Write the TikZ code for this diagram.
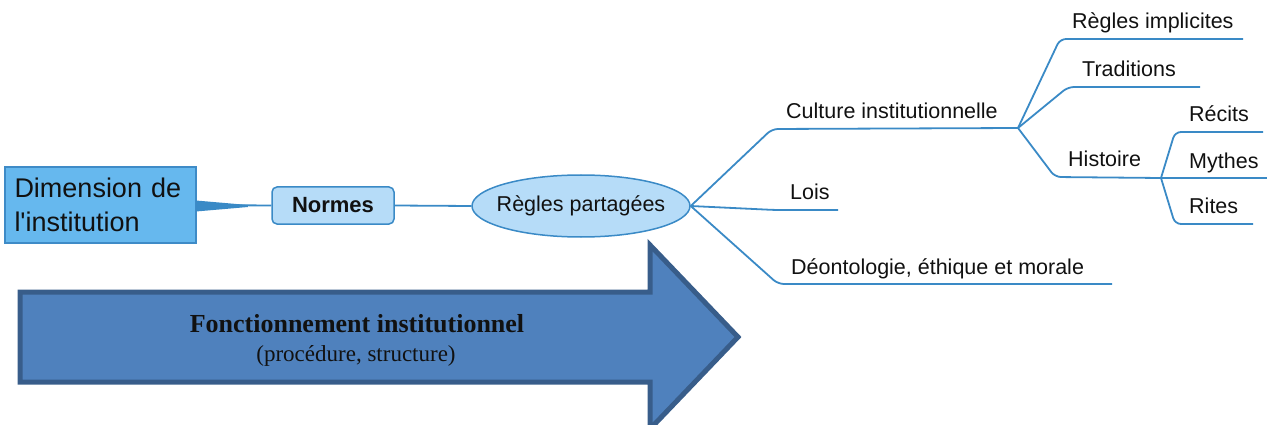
\documentclass[tikz,border=0pt]{standalone}
\usepackage{fontspec}
\setmainfont{Liberation Sans}
\newfontfamily\timesfont{Liberation Serif}
\usetikzlibrary{shapes.geometric}
\definecolor{branch}{HTML}{3A8AC6}
\definecolor{dimfill}{HTML}{66B8EE}
\definecolor{dimedge}{HTML}{3E8BC7}
\definecolor{nodefill}{HTML}{B6DCF8}
\definecolor{arrowfill}{HTML}{4F81BD}
\definecolor{arrowedge}{HTML}{385D8A}
\definecolor{ink}{HTML}{111111}

\begin{document}
\begin{tikzpicture}[x=1pt,y=-1pt,
  branchline/.style={draw=branch,line width=1.8pt,rounded corners=6pt},
  leaf/.style={anchor=base west,inner sep=0pt,text=ink,
    font=\fontsize{21.5}{24}\selectfont},
]
\useasboundingbox (0,0) rectangle (1267,425);

% large block arrow at the bottom
\draw[fill=arrowfill,draw=arrowedge,line width=5pt,line join=miter]
  (20,292) -- (650,292) -- (650,245) -- (738,337) -- (650,429)
  -- (650,382) -- (20,382) -- cycle;
\node (fonct) [anchor=base,inner sep=0pt,text=ink,
  font=\timesfont\bfseries\fontsize{26}{30}\selectfont] at (357,332)
  {Fonctionnement institutionnel};
\node (proc) [anchor=base,inner sep=0pt,text=ink,
  font=\timesfont\fontsize{23}{26}\selectfont] at (356,361)
  {(procédure, structure)};

% root box
\node (dim) [rectangle,draw=dimedge,fill=dimfill,line width=1.5pt,
  minimum width=191pt,minimum height=76pt,inner sep=0pt,
  text width=172pt,align=left,text=ink,
  font=\fontsize{27}{34}\selectfont] at (100.5,205)
  {Dimension de\\l\textquotesingle institution};

% first level
\node (normes) [rectangle,rounded corners=5pt,draw=branch,fill=nodefill,
  line width=1.5pt,minimum width=122pt,minimum height=37pt,text=ink,
  font=\bfseries\fontsize{22}{26}\selectfont] at (333,205.5) {Normes};

\node (regles) [ellipse,draw=branch,fill=nodefill,line width=1.5pt,
  minimum width=218pt,minimum height=62pt,inner sep=0pt] at (581,206) {};
\node (reglesText) [inner sep=0pt,text=ink,
  font=\fontsize{21.5}{24}\selectfont] at (regles.center) {Règles partagées};

% tapered link from the root
\fill[branch] (196,200.5) -- (248,205) -- (248,207) -- (196,211.5) -- cycle;
\draw[draw=branch,line width=1.8pt] (dim.east) -- (normes.west);
\draw[draw=branch,line width=1.8pt] (normes.east) -- (regles.west);

% junctions and free ends
\coordinate (j1) at (1018,128);
\coordinate (j2) at (1161,178);
\coordinate (eLois) at (838,210);
\coordinate (eDeon) at (1112,284);
\coordinate (eImpl) at (1243,39);
\coordinate (eTrad) at (1200,87);
\coordinate (eRec) at (1263,132);
\coordinate (eMyth) at (1267,178);
\coordinate (eRite) at (1253,224);

% branches
\draw[branchline] (regles.east) -- (772,129) -- (j1);
\draw[branchline] (regles.east) -- (775,210) -- (eLois);
\draw[branchline] (regles.east) -- (778,284) -- (eDeon);
\draw[branchline] (j1) -- (1060,39) -- (eImpl);
\draw[branchline] (j1) -- (1068,87) -- (eTrad);
\draw[branchline] (j1) -- (1055,177) -- (j2);
\draw[branchline] (j2) -- (1175,132) -- (eRec);
\draw[branchline] (j2) -- (eMyth);
\draw[branchline] (j2) -- (1175,224) -- (eRite);

% labels
\node (tCult) [leaf] at (786,119) {Culture institutionnelle};
\node (tLois) [leaf] at (790,200) {Lois};
\node (tDeon) [leaf] at (791,274) {Déontologie, éthique et morale};
\node (tImpl) [leaf] at (1072,29) {Règles implicites};
\node (tTrad) [leaf] at (1082,77) {Traditions};
\node (tHist) [leaf] at (1068,167) {Histoire};
\node (tRec) [leaf] at (1189,122) {Récits};
\node (tMyth) [leaf] at (1189,168) {Mythes};
\node (tRite) [leaf] at (1189,214) {Rites};
\end{tikzpicture}
\end{document}
